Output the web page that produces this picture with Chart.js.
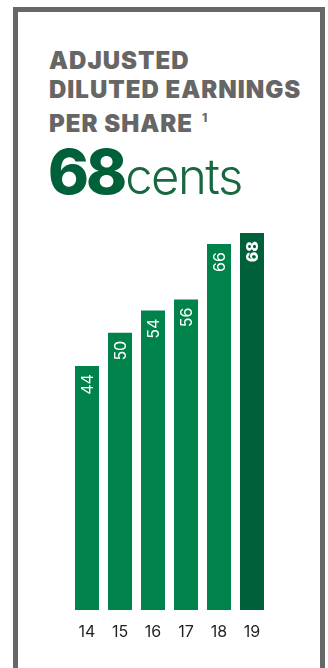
<!DOCTYPE html>
<html>
<head>
<meta charset="utf-8">
<script src="https://cdn.jsdelivr.net/npm/chart.js"></script>
<style>
  html, body { margin: 0; padding: 0; background: #fff; }
  .main { position: relative; width: 328px; height: 668px; overflow: hidden; }
  .frame {
    position: absolute; left: 13px; top: 7px; width: 302px; height: 659px;
    border: 5px solid #676767; border-bottom: 1px solid #cfcfcf;
  }
  .title {
    position: absolute; left: 49px; top: 47px; margin: 0;
    font-family: Inter, sans-serif; font-weight: 900; font-size: 24px;
    line-height: 28.5px; color: #666666; letter-spacing: 1px;
  }
  .title sup { font-size: 12px; font-weight: 800; vertical-align: 10px; margin-left: 9px; letter-spacing: 0; }
  .big {
    position: absolute; left: 48px; top: 134px; margin: 0; white-space: nowrap;
    font-family: Inter, sans-serif; color: #006039;
  }
  .big b { font-weight: 800; font-size: 62px; letter-spacing: -3px; }
  .big span { font-weight: 300; font-size: 49px; color: #17683f; letter-spacing: -1.5px; margin-left: 1px; }
  canvas { position: absolute; left: 0; top: 0; }
</style>
</head>
<body>
<div class="main">
  <div class="frame"></div>
  <div class="title">ADJUSTED<br>DILUTED EARNINGS<br>PER SHARE<sup>1</sup></div>
  <div class="big"><b>68</b><span>cents</span></div>
  <canvas id="myChart" width="328" height="668"></canvas>
</div>
<script>
  // data
  var years = ['14', '15', '16', '17', '18', '19'];
  var eps = [44, 50, 54, 56, 66, 68];
  var barColors = ['#00834b', '#00834b', '#00834b', '#00834b', '#00834b', '#00603a'];
  var boldLabel = [false, false, false, false, false, true];

  // value labels, rotated, near the top of each bar
  var barLabels = {
    id: 'barLabels',
    afterDatasetsDraw: function (chart) {
      var ctx = chart.ctx;
      var meta = chart.getDatasetMeta(0);
      meta.data.forEach(function (bar, i) {
        ctx.save();
        ctx.translate(bar.x + 1, bar.y + 8);
        ctx.rotate(-Math.PI / 2);
        ctx.fillStyle = '#ffffff';
        ctx.font = (boldLabel[i] ? '800 ' : '400 ') + '16px Inter, sans-serif';
        ctx.textAlign = 'right';
        ctx.textBaseline = 'middle';
        ctx.fillText(String(eps[i]), 0, 0);
        ctx.restore();
      });
    }
  };

  var ctx = document.getElementById('myChart').getContext('2d');
  var myChart = new Chart(ctx, {
    type: 'bar',
    data: {
      labels: years,
      datasets: [{
        data: eps,
        backgroundColor: barColors,
        categoryPercentage: 1,
        barPercentage: 0.727
      }]
    },
    options: {
      responsive: false,
      animation: false,
      layout: { padding: { left: 70.5, right: 59.5, top: 233, bottom: 0 } },
      plugins: { legend: { display: false }, tooltip: { enabled: false } },
      scales: {
        y: { display: false, min: 0, max: 68 },
        x: {
          grid: { display: false },
          border: { display: false },
          ticks: { color: '#231f20', font: { family: 'Inter', size: 16 }, padding: 5 },
          afterFit: function (scale) { scale.height = 58; }
        }
      }
    },
    plugins: [barLabels]
  });
</script>
</body>
</html>
